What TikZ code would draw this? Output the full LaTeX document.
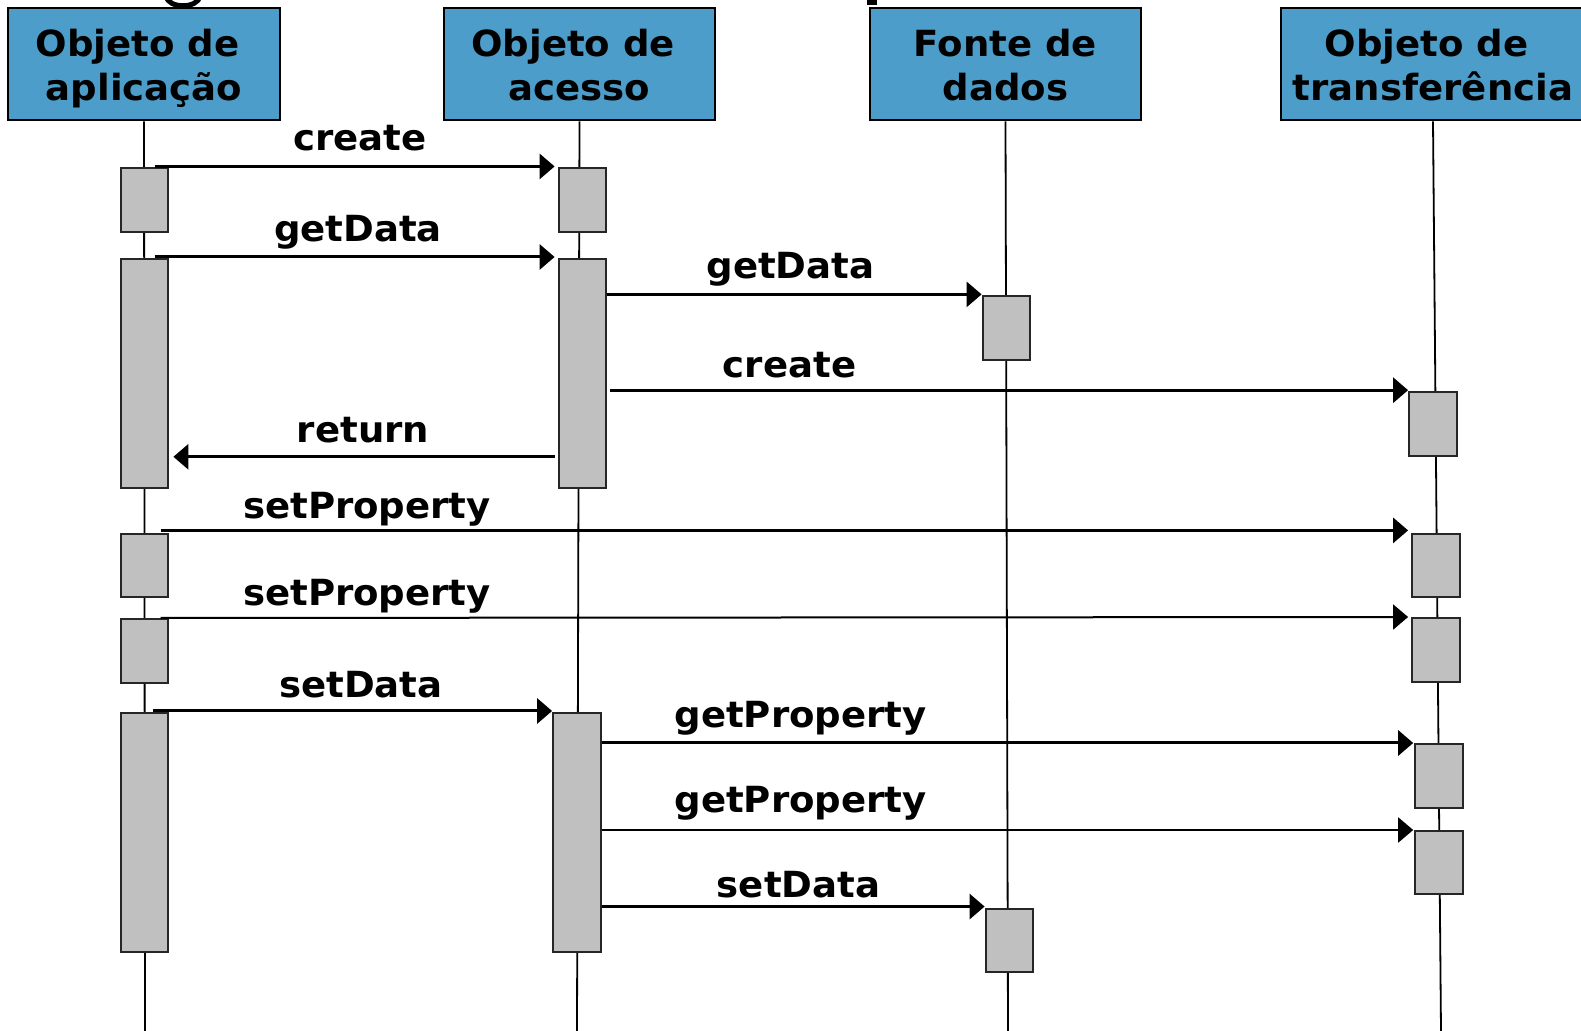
\documentclass[tikz,border=0pt]{standalone}
\usepackage{fontspec}
\setmainfont{DejaVu Sans}[FakeStretch=1.03]
\usetikzlibrary{arrows.meta,calc}
\definecolor{hdrblue}{RGB}{77,157,202}
\definecolor{actgray}{RGB}{192,192,192}
\newcommand{\trsp}{\hspace*{6.3pt}}
\tikzset{
 hdr/.style={draw=black, line width=1.3pt, fill=hdrblue, align=center, font=\fontsize{18}{22}\selectfont\bfseries, inner sep=0pt, minimum height=56pt, text height=37pt, text depth=0.1pt},
 act/.style={draw=black!85, line width=1pt, fill=actgray, inner sep=0pt, minimum width=23.7pt},
 life/.style={line width=0.9pt, black},
 msg/.style={line width=1.5pt, -{Triangle[length=7.5pt,width=12.5pt]}},
 msgthin/.style={msg, line width=1pt},
 lbl/.style={font=\fontsize{18}{21.5}\selectfont\bfseries, anchor=base, inner sep=0pt},
}
\begin{document}
\begin{tikzpicture}[x=0.5pt,y=-0.5pt]
\useasboundingbox (0,0) rectangle (1581,1031);
\clip (0,0) rectangle (1581,1031);
% title fragments (cut off)
\draw[line width=2.5pt] (166,-4) .. controls (168,9) and (198,9) .. (200,-4);
\fill (867,0) rectangle (877,5);
% headers
\node[hdr, minimum width=136pt] (hA) at (144,64) {Objeto de\trsp\\aplicação};
\node[hdr, minimum width=135.5pt] (hB) at (579.5,64) {Objeto de\trsp\\acesso};
\node[hdr, minimum width=135.5pt] (hC) at (1005.5,64) {Fonte de\\dados};
\node[hdr, minimum width=152pt] (hD) at (1433,64) {Objeto de\trsp\\transferência};
% lifelines
\coordinate (eA) at (145,1031);
\coordinate (eB) at (577,1031);
\coordinate (eC) at (1008,1031);
\coordinate (eD) at (1441,1031);
\draw[life] (hA.south) -- (eA);
\draw[life] (hB.south) -- (eB);
\draw[life] (hC.south) -- (eC);
\draw[life] (hD.south) -- (eD);
% activations
\node[act, minimum height=31.75pt] (A1) at (144.7,200.2) {};
\node[act, minimum height=114.5pt] (A2) at (144.7,373.5) {};
\node[act, minimum height=31.3pt] (A3) at (144.7,565.7) {};
\node[act, minimum height=31.8pt] (A4) at (144.7,650.8) {};
\node[act, minimum height=119.5pt] (A5) at (144.7,832.5) {};
\node[act, minimum height=31.75pt] (B1) at (582.3,200.2) {};
\node[act, minimum height=114.5pt] (B2) at (582.3,373.5) {};
\node[act, minimum height=119.5pt] (B3) at (576.8,832.5) {};
\node[act, minimum height=31.8pt] (C1) at (1006.3,328.2) {};
\node[act, minimum height=31.75pt] (C2) at (1009.3,940.3) {};
\node[act, minimum height=31.9pt] (D1) at (1432.8,423.9) {};
\node[act, minimum height=31.3pt] (D2) at (1435.8,565.7) {};
\node[act, minimum height=31.8pt] (D3) at (1435.8,649.8) {};
\node[act, minimum height=31.8pt] (D4) at (1438.9,775.8) {};
\node[act, minimum height=31.5pt] (D5) at (1438.9,862.5) {};
% messages
\draw[msg] ([xshift=5pt,yshift=0.5pt]A1.north) -- ([xshift=-1.5pt,yshift=0.5pt]B1.north west);
\draw[msg] ([xshift=5pt,yshift=0.5pt]A2.north) -- ([xshift=-1.5pt,yshift=0.5pt]B2.north west);
\draw[msg] ([yshift=0.5pt]B2.east |- C1.north west) -- ([yshift=0.5pt]C1.north west);
\draw[msg] ([xshift=1.5pt,yshift=0.4pt]B2.east |- D1.north west) -- ([yshift=0.4pt]D1.north west);
\draw[msg] ([xshift=-1.5pt]B2.west |- D1.south) -- ([xshift=2pt]A2.east |- D1.south);
\draw[msg] ([xshift=8pt,yshift=1.5pt]A3.north) -- ([xshift=-1.5pt,yshift=1.5pt]D2.north west);
\draw[msgthin] ([xshift=8pt]A4.north) -- ([xshift=-1.5pt]D3.north west);
\draw[msg] ([xshift=4pt,yshift=0.5pt]A5.north) -- ([yshift=0.5pt]B3.north west);
\draw[msg] (B3.east |- D4.north west) -- ([xshift=-0.5pt]D4.north west);
\draw[msgthin] (B3.east |- D5.north west) -- ([xshift=-0.5pt]D5.north west);
\draw[msg] ([yshift=0.5pt]B3.east |- C2.north west) -- ([yshift=0.5pt]C2.north west);
% labels
\node[lbl] (l1) at (360,151) {create};
\node[lbl] (l2) at (358,242) {getData};
\node[lbl] (l3) at (790.5,279) {getData};
\node[lbl] (l4) at (789.5,378) {create};
\node[lbl] (l5) at (363,443) {return};
\node[lbl] (l6) at (367,519) {setProperty};
\node[lbl] (l7) at (367,606) {setProperty};
\node[lbl] (l8) at (361,698) {setData};
\node[lbl] (l9) at (800.6,728) {getProperty};
\node[lbl] (l10) at (800.6,813) {getProperty};
\node[lbl] (l11) at (798.6,898) {setData};
\end{tikzpicture}
\end{document}
